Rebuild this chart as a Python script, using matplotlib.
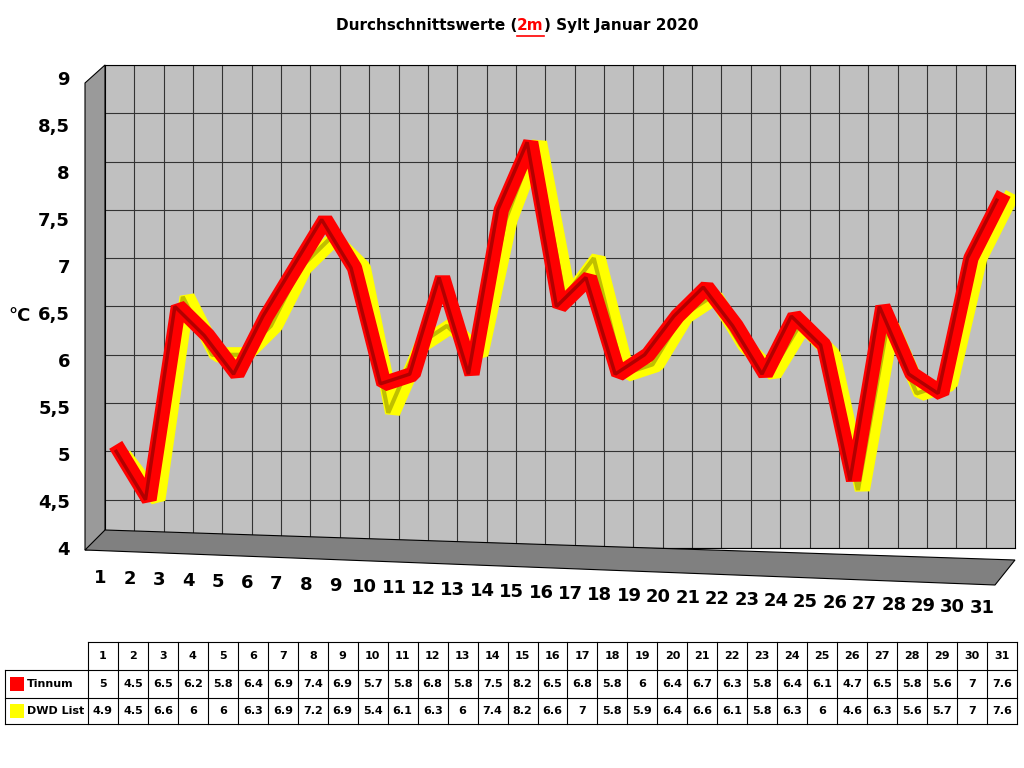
import matplotlib
matplotlib.use("Agg")
import matplotlib.pyplot as plt
from matplotlib.patches import Polygon, Rectangle

days = list(range(1, 32))
tinnum = [5, 4.5, 6.5, 6.2, 5.8, 6.4, 6.9, 7.4, 6.9, 5.7, 5.8, 6.8, 5.8, 7.5, 8.2, 6.5,
          6.8, 5.8, 6, 6.4, 6.7, 6.3, 5.8, 6.4, 6.1, 4.7, 6.5, 5.8, 5.6, 7, 7.6]
dwd = [4.9, 4.5, 6.6, 6, 6, 6.3, 6.9, 7.2, 6.9, 5.4, 6.1, 6.3, 6, 7.4, 8.2, 6.6,
       7, 5.8, 5.9, 6.4, 6.6, 6.1, 5.8, 6.3, 6, 4.6, 6.3, 5.6, 5.7, 7, 7.6]
yticks = [4, 4.5, 5, 5.5, 6, 6.5, 7, 7.5, 8, 8.5, 9]

fig = plt.figure(figsize=(10.24, 7.68), dpi=100)
fig.patch.set_facecolor("white")

# title with red underlined "2m"
t1 = fig.text(0.328, 0.967, "Durchschnittswerte (", fontsize=11, fontweight="bold", ha="left", va="center")
t2 = fig.text(0, 0, "2m", fontsize=11, fontweight="bold", color="red", ha="left", va="center")
t2.set_position((0, 0))
t3 = fig.text(0, 0, ") Sylt Januar 2020", fontsize=11, fontweight="bold", ha="left", va="center")
fig.canvas.draw()
r = fig.canvas.get_renderer()
b1 = t1.get_window_extent(r)
x2 = b1.x1 / fig.bbox.width
t2.set_position((x2, 0.967))
b2 = t2.get_window_extent(r)
x3 = b2.x1 / fig.bbox.width
t3.set_position((x3, 0.967))
fig.add_artist(plt.Line2D([x2, x3], [0.953, 0.953], color="red", lw=1.2))

# side wall and floor (fake 3D)
fig.add_artist(Polygon([[85/1024, 1-83/768], [105/1024, 1-65/768], [105/1024, 1-548/768], [85/1024, 1-550/768]],
                       closed=True, facecolor="#9a9a9a", edgecolor="black", lw=0.8, transform=fig.transFigure))
fig.add_artist(Polygon([[85/1024, 1-550/768], [105/1024, 1-530/768], [1015/1024, 1-560/768], [995/1024, 1-585/768]],
                       closed=True, facecolor="#808080", edgecolor="black", lw=0.8, transform=fig.transFigure))

ax = fig.add_axes([105/1024, 1-548/768, 910/1024, 483/768])
ax.set_facecolor("#c0c0c0")
ax.set_xlim(0.5, 31.5)
ax.set_ylim(4, 9)
ax.set_xticks([d + 0.5 for d in days[:-1]])
ax.set_xticklabels([])
ax.set_yticks(yticks)
ax.set_yticklabels([])
ax.tick_params(length=0)
ax.grid(color="#333333", lw=0.8)
for s in ax.spines.values():
    s.set_color("black")
    s.set_linewidth(0.8)

ax.plot([d + 0.3 for d in days], dwd, color="#ffff00", lw=11, solid_joinstyle="bevel", zorder=3)
ax.plot([d + 0.15 for d in days], dwd, color="#808000", lw=3, solid_joinstyle="bevel", zorder=3, alpha=0.5)
ax.plot(days, tinnum, color="#ff0000", lw=11, solid_joinstyle="bevel", zorder=4)
ax.plot([d - 0.12 for d in days], tinnum, color="#800000", lw=2.5, solid_joinstyle="bevel", zorder=4, alpha=0.6)

for v in yticks:
    y = 1 - (550 - (v - 4) / 5 * 470) / 768
    fig.text(70/1024, y, f"{v:g}".replace(".", ","), fontsize=13, fontweight="bold", ha="right", va="center")
fig.text(20/1024, 1-316/768, "°C", fontsize=13, fontweight="bold", ha="center", va="center")
for d in days:
    x = 100 + (d - 1) * 29.4
    y = 578 + (d - 1) * 1.0
    fig.text(x/1024, 1-y/768, str(d), fontsize=13, fontweight="bold", ha="center", va="center")

# data table
tab = fig.add_axes([0, 0, 1, 1], facecolor="none")
tab.set_xlim(0, 1024)
tab.set_ylim(768, 0)
tab.axis("off")
x0, x1 = 5, 1017
c0 = 88
cw = (x1 - c0) / 31
rows = [642, 670, 698, 724]
for y in rows:
    tab.plot([c0 if y == rows[0] else x0, x1], [y, y], color="black", lw=0.8)
tab.plot([x0, x0], [rows[1], rows[3]], color="black", lw=0.8)
for i in range(32):
    tab.plot([c0 + i * cw] * 2, [rows[0], rows[3]], color="black", lw=0.8)
for i, d in enumerate(days):
    cx = c0 + (i + 0.5) * cw
    tab.text(cx, (rows[0] + rows[1]) / 2, str(d), fontsize=8, fontweight="bold", ha="center", va="center")
    tab.text(cx, (rows[1] + rows[2]) / 2, f"{tinnum[i]:g}", fontsize=8, fontweight="bold", ha="center", va="center")
    tab.text(cx, (rows[2] + rows[3]) / 2, f"{dwd[i]:g}", fontsize=8, fontweight="bold", ha="center", va="center")
for (name, col, r_) in [("Tinnum", "#ff0000", 1), ("DWD List", "#ffff00", 2)]:
    yc = (rows[r_] + rows[r_ + 1]) / 2
    tab.add_patch(Rectangle((10, yc - 7), 14, 14, facecolor=col, edgecolor="none"))
    tab.text(27, yc, name, fontsize=8, fontweight="bold", ha="left", va="center")

fig.savefig("out.png", dpi=100, facecolor="white")
